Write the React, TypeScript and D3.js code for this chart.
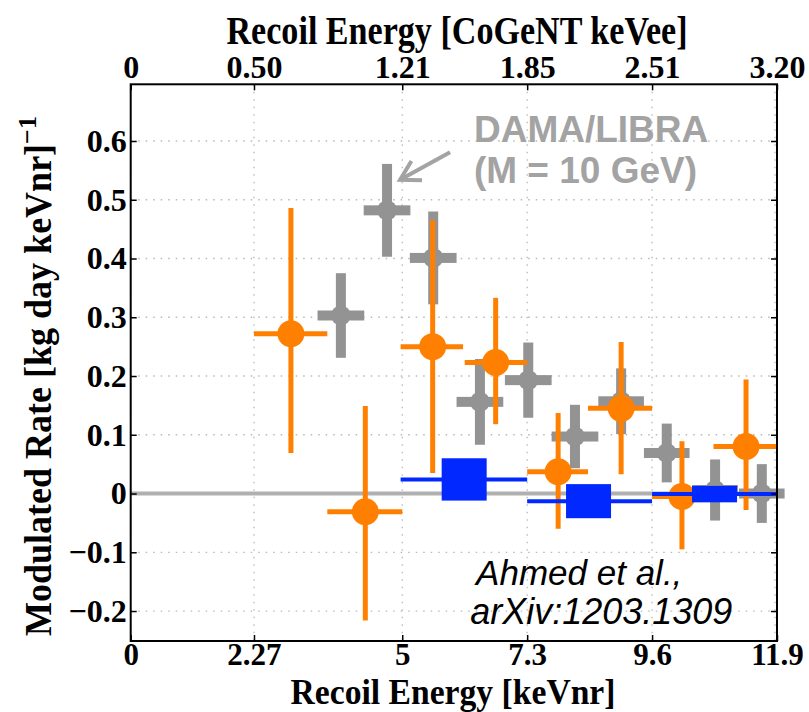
import { useRef, useEffect } from "react";
import * as d3 from "d3";

// keVnr ticks (bottom) and the matching CoGeNT keVee labels (top)
const bottomTicks = [0, 2.27, 5, 7.3, 9.6, 11.9];
const topLabels = ["0", "0.50", "1.21", "1.85", "2.51", "3.20"];
const yTicks = [-0.2, -0.1, 0, 0.1, 0.2, 0.3, 0.4, 0.5, 0.6];

// CoGeNT (orange)
const cogentX = [2.95, 4.32, 5.56, 6.72, 7.87, 9.03, 10.15, 11.33];
const cogentY = [0.272, -0.031, 0.25, 0.223, 0.037, 0.145, -0.005, 0.08];
const cogentXLo = [2.27, 3.62, 4.97, 6.15, 7.3, 8.42, 9.6, 10.73];
const cogentXHi = [3.62, 5.0, 6.12, 7.3, 8.42, 9.6, 10.68, 11.89];
const cogentYLo = [0.069, -0.216, 0.035, 0.118, -0.06, 0.033, -0.095, -0.028];
const cogentYHi = [0.486, 0.149, 0.465, 0.333, 0.137, 0.258, 0.089, 0.194];

// DAMA/LIBRA (grey crosses)
const damaX = [3.87, 4.72, 5.57, 6.43, 7.32, 8.18, 9.03, 9.87, 10.76, 11.62];
const damaY = [0.303, 0.482, 0.401, 0.156, 0.193, 0.097, 0.157, 0.069, 0.006, 0.0];
const damaYErr = [0.072, 0.079, 0.079, 0.073, 0.064, 0.054, 0.056, 0.05, 0.052, 0.05];
const damaXErr = [0.43, 0.43, 0.43, 0.43, 0.43, 0.43, 0.42, 0.42, 0.42, 0.42];

// CDMS (blue)
const cdmsX = [6.14, 8.43, 10.75];
const cdmsY = [0.024, -0.013, -0.001];
const cdmsXLo = [4.97, 7.3, 9.6];
const cdmsXHi = [7.3, 9.6, 11.9];
const cdmsYErr = [0.036, 0.029, 0.014];

const W = 809;
const H = 712;
const serif = "'Liberation Serif', 'Times New Roman', serif";
const sans = "'Liberation Sans', Arial, sans-serif";

const Chart = () => {
  const ref = useRef(null);

  useEffect(() => {
    const svg = d3.select(ref.current);
    svg.selectAll("*").remove();

    const x = d3.scaleLinear().domain([0, 11.9]).range([130.7, 777]);
    const y = d3.scaleLinear().domain([-0.251, 0.6965]).range([641, 84.3]);
    const [x0, x1] = x.range();
    const [y0, y1] = y.range();

    // grid
    const grid = svg.append("g").attr("stroke", "#b8b8b8").attr("stroke-width", 1.3).attr("stroke-dasharray", "1.5,6");
    bottomTicks.forEach((t) => {
      grid.append("line").attr("x1", x(t) - (t === 11.9 ? 2 : 0)).attr("x2", x(t) - (t === 11.9 ? 2 : 0)).attr("y1", y1).attr("y2", y0);
    });
    yTicks.filter((t) => t !== 0).forEach((t) => {
      grid.append("line").attr("x1", x0).attr("x2", x1).attr("y1", y(t)).attr("y2", y(t));
    });

    // zero line
    svg.append("line").attr("x1", x0).attr("x2", x1 + 4).attr("y1", y(0)).attr("y2", y(0))
      .attr("stroke", "#b0b0b0").attr("stroke-width", 4);

    // DAMA crosses
    const grey = "#939393";
    damaX.forEach((dx, i) => {
      const g = svg.append("g").attr("fill", grey);
      g.append("rect").attr("x", x(dx) - 5).attr("width", 10)
        .attr("y", y(damaY[i] + damaYErr[i])).attr("height", y(damaY[i] - damaYErr[i]) - y(damaY[i] + damaYErr[i]));
      g.append("rect").attr("x", x(dx - damaXErr[i])).attr("width", x(dx + damaXErr[i]) - x(dx - damaXErr[i]))
        .attr("y", y(damaY[i]) - 5).attr("height", 10);
      g.append("circle").attr("cx", x(dx)).attr("cy", y(damaY[i])).attr("r", 10);
    });

    // CoGeNT points
    const orange = "#ff8000";
    cogentX.forEach((cx, i) => {
      const g = svg.append("g").attr("stroke", orange).attr("stroke-width", 5);
      g.append("line").attr("x1", x(cx)).attr("x2", x(cx)).attr("y1", y(cogentYHi[i])).attr("y2", y(cogentYLo[i]));
      g.append("line").attr("x1", x(cogentXLo[i])).attr("x2", x(cogentXHi[i])).attr("y1", y(cogentY[i])).attr("y2", y(cogentY[i]));
      g.append("circle").attr("cx", x(cx)).attr("cy", y(cogentY[i])).attr("r", 13.5).attr("fill", orange).attr("stroke", "none");
    });

    // CDMS points
    const blue = "#0028ff";
    cdmsX.forEach((bx, i) => {
      svg.append("line").attr("x1", x(cdmsXLo[i])).attr("x2", x(cdmsXHi[i])).attr("y1", y(cdmsY[i])).attr("y2", y(cdmsY[i]))
        .attr("stroke", blue).attr("stroke-width", 4);
      svg.append("rect").attr("x", x(bx) - 22.5).attr("width", 45)
        .attr("y", y(cdmsY[i] + cdmsYErr[i])).attr("height", y(cdmsY[i] - cdmsYErr[i]) - y(cdmsY[i] + cdmsYErr[i]))
        .attr("fill", blue);
    });

    // axes
    const styleAxis = (size) => (g) => {
      g.select(".domain").remove();
      g.selectAll(".tick line").attr("stroke", "#000").attr("stroke-width", 1.5);
      g.selectAll("text").attr("font-family", serif).attr("font-weight", "bold").attr("font-size", size).attr("fill", "#000");
    };
    svg.append("g").attr("transform", `translate(0,${y0})`)
      .call(d3.axisBottom(x).tickValues(bottomTicks).tickSize(-6).tickPadding(2).tickFormat((d) => String(d)))
      .call(styleAxis(31));
    svg.append("g").attr("transform", `translate(0,${y1})`)
      .call(d3.axisTop(x).tickValues(bottomTicks).tickSize(-6).tickPadding(6).tickFormat((d, i) => topLabels[i]))
      .call(styleAxis(32));
    svg.append("g").attr("transform", `translate(${x0},0)`)
      .call(d3.axisLeft(y).tickValues(yTicks).tickSize(-6).tickPadding(4)
        .tickFormat((d) => (d < 0 ? "\u2212" + String(-d) : String(d))))
      .call(styleAxis(32));
    svg.append("g").attr("transform", `translate(${x1},0)`)
      .call(d3.axisRight(y).tickValues(yTicks).tickSize(-6).tickFormat(() => ""))
      .call(styleAxis(32));

    // frame
    svg.append("rect").attr("x", x0).attr("y", y1).attr("width", x1 - x0).attr("height", y0 - y1)
      .attr("fill", "none").attr("stroke", "#000").attr("stroke-width", 2);

    // axis titles (condensed, like the original export)
    svg.append("text").attr("x", 457).attr("y", 44).attr("text-anchor", "middle")
      .attr("font-family", serif).attr("font-weight", "bold").attr("font-size", 39)
      .attr("textLength", 461).attr("lengthAdjust", "spacingAndGlyphs")
      .text("Recoil Energy [CoGeNT keVee]");
    svg.append("text").attr("x", 453).attr("y", 704).attr("text-anchor", "middle")
      .attr("font-family", serif).attr("font-weight", "bold").attr("font-size", 36)
      .attr("textLength", 325).attr("lengthAdjust", "spacingAndGlyphs")
      .text("Recoil Energy [keVnr]");
    const yl = svg.append("text").attr("transform", "translate(51,376) rotate(-90)").attr("text-anchor", "middle")
      .attr("font-family", serif).attr("font-weight", "bold").attr("font-size", 38);
    yl.append("tspan").attr("textLength", 492).attr("lengthAdjust", "spacingAndGlyphs").text("Modulated Rate [kg day keVnr]");
    yl.append("tspan").attr("dy", -15).attr("font-size", 26).text("\u22121");

    // annotations
    const annoGrey = "#a3a3a3";
    svg.append("text").attr("x", x(6.32)).attr("y", y(0.598)).attr("font-family", sans).attr("font-weight", "bold")
      .attr("font-size", 37).attr("fill", annoGrey).text("DAMA/LIBRA");
    svg.append("text").attr("x", x(6.32)).attr("y", y(0.529)).attr("font-family", sans).attr("font-weight", "bold")
      .attr("font-size", 37).attr("fill", annoGrey).text("(M = 10 GeV)");

    const ax0 = x(5.88), ay0 = y(0.581), ax1 = x(4.96), ay1 = y(0.534);
    const ang = Math.atan2(ay0 - ay1, ax0 - ax1);
    const head = 22;
    const arrow = svg.append("g").attr("stroke", annoGrey).attr("stroke-width", 4).attr("fill", "none");
    arrow.append("line").attr("x1", ax0).attr("y1", ay0).attr("x2", ax1).attr("y2", ay1);
    arrow.append("path").attr("d", d3.line()([
      [ax1 + head * Math.cos(ang + Math.PI / 6), ay1 + head * Math.sin(ang + Math.PI / 6)],
      [ax1, ay1],
      [ax1 + head * Math.cos(ang - Math.PI / 6), ay1 + head * Math.sin(ang - Math.PI / 6)],
    ]));

    svg.append("text").attr("x", x(6.36)).attr("y", y(-0.156)).attr("font-family", sans).attr("font-style", "italic")
      .attr("font-size", 35).attr("fill", "#000").text("Ahmed et al.,");
    svg.append("text").attr("x", x(6.25)).attr("y", y(-0.222)).attr("font-family", sans).attr("font-style", "italic")
      .attr("font-size", 36).attr("fill", "#000").text("arXiv:1203.1309");
  }, []);

  return <svg ref={ref} width={W} height={H} style={{ position: "absolute", left: 0, top: 0, background: "#fff" }}></svg>;
};

export default function App() {
  return <Chart />;
}
